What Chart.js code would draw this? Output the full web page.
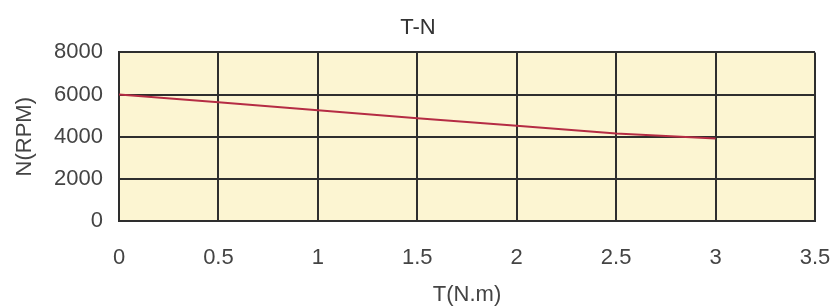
<!DOCTYPE html>
<html>
<head>
<meta charset="utf-8">
<script src="https://cdn.jsdelivr.net/npm/chart.js@4"></script>
<style>
  html, body { margin: 0; padding: 0; background: #fff; }
  #wrap { width: 836px; height: 308px; }
</style>
</head>
<body>
<div id="wrap"><canvas id="tn"></canvas></div>
<script>
// ------- DATA -------
const torque = [0, 0.5, 1, 1.5, 2, 2.5, 3];
const speed = [6000, 5630, 5250, 4880, 4520, 4150, 3920];
const xTicks = [0, 0.5, 1, 1.5, 2, 2.5, 3, 3.5];
const yTicks = [0, 2000, 4000, 6000, 8000];

const font = { family: "'Liberation Sans', Arial, sans-serif", size: 22, weight: "normal" };
const textColor = "#444";
const gridColor = "#2e2e2e";

// yellow plot background
const plotBg = {
    id: "plotBg",
    beforeDraw(chart) {
        const { ctx, chartArea: a } = chart;
        ctx.save();
        ctx.fillStyle = "#fcf5d2";
        ctx.fillRect(a.left, a.top, a.right - a.left, a.bottom - a.top);
        ctx.restore();
    }
};

new Chart(document.getElementById("tn"), {
    type: "line",
    data: {
        datasets: [{
            label: "T-N",
            data: torque.map((t, i) => ({ x: t, y: speed[i] })),
            borderColor: "#b52c44",
            borderWidth: 2,
            pointRadius: 0,
            fill: false,
            tension: 0
        }]
    },
    options: {
        responsive: true,
        maintainAspectRatio: false,
        animation: false,
        layout: { padding: 0 },
        plugins: {
            legend: { display: false },
            tooltip: { enabled: false },
            title: {
                display: true,
                text: "T-N",
                color: "#333",
                font: font,
                padding: { top: 15, bottom: 11 }
            }
        },
        scales: {
            x: {
                type: "linear",
                min: 0,
                max: 3.5,
                afterBuildTicks: s => { s.ticks = xTicks.map(v => ({ value: v })); },
                afterFit: s => { s.height = 87; s.paddingRight = 21; s.paddingLeft = 0; },
                ticks: { color: textColor, font: font, padding: 24, maxRotation: 0, callback: v => String(v) },
                grid: { color: gridColor, lineWidth: 2, drawTicks: false },
                border: { color: gridColor, width: 2 },
                title: { display: true, text: "T(N.m)", color: textColor, font: font, padding: { top: 0, bottom: 0 } }
            },
            y: {
                min: 0,
                max: 8000,
                afterBuildTicks: s => { s.ticks = yTicks.map(v => ({ value: v })); },
                afterFit: s => { s.width = 119; },
                ticks: { color: textColor, font: font, padding: 16, callback: v => String(v) },
                grid: { color: gridColor, lineWidth: 2, drawTicks: false },
                border: { color: gridColor, width: 2 },
                title: { display: true, text: "N(RPM)", color: textColor, font: font, padding: { top: 12, bottom: 0 } }
            }
        }
    },
    plugins: [plotBg]
});
</script>
</body>
</html>
